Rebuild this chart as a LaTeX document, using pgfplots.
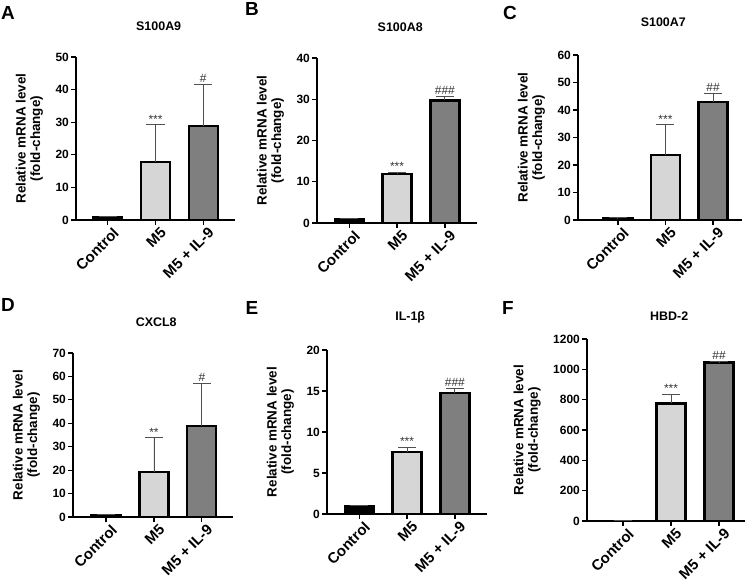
\documentclass[border=0pt]{standalone}
\usepackage{fontspec}
\setmainfont{Liberation Sans}
\usepackage{pgfplots}
\pgfplotsset{compat=1.18}

\definecolor{ctrlc}{HTML}{000000}
\definecolor{m5c}{HTML}{D6D6D6}
\definecolor{ilc}{HTML}{7F7F7F}
\definecolor{errc}{HTML}{505050}

\pgfplotsset{
  panel/.style={
    scale only axis, anchor=south west, clip=false,
    axis lines=left, axis line style={-, line width=1.2pt},
    ymin=0, xtick={0,1,2}, xticklabels={Control,M5,M5 + IL-9},
    tick align=outside, major tick length=5bp,
    tick style={line width=1.2pt, black}, minor tick num=0,
    /pgf/number format/assume math mode=true,
    /pgf/number format/1000 sep={}, scaled y ticks=false,
    xticklabel style={rotate=45, anchor=north east, inner sep=1bp, xshift=3bp, yshift=-3bp,
      font=\bfseries\fontsize{15}{15}\selectfont},
    yticklabel style={font=\bfseries\fontsize{12}{13}\selectfont, inner sep=2bp},
    ylabel={Relative mRNA level\\(fold-change)},
    ylabel style={align=center, font=\bfseries\fontsize{13.5}{14.5}\selectfont, yshift=7bp},
    title style={font=\bfseries\fontsize{12.5}{13}\selectfont, at={(0.52,1)}, anchor=center},
  },
  bar/.style={ybar, bar width=29bp, bar shift=0pt, draw=black, line width=2.2pt,
    /pgfplots/error bars/y dir=plus,
    /pgfplots/error bars/y explicit,
    /pgfplots/error bars/error bar style={line width=0.9pt, errc},
    /pgfplots/error bars/error mark options={rotate=90, line width=0.9pt, errc, mark size=9bp}},
  sig/.style={draw=none, mark=none, nodes near coords, point meta=explicit symbolic,
    nodes near coords style={anchor=south, inner sep=1.5bp, text=black!80,
      font=\fontsize{12}{12}\selectfont}},
}

\begin{document}
\begin{tikzpicture}
\useasboundingbox (0,0) rectangle (753bp,586bp);

% A
\begin{axis}[panel, at={(76bp,366bp)}, width=159bp, height=163bp,
  ymax=50, ytick={0,10,...,50}, xmin=-0.67, xmax=2.67,
  title={S100A9}, title style={yshift=25bp}]
\addplot[bar, fill=ctrlc] coordinates {(0,0.9) +- (0,0.2)};
\addplot[bar, fill=m5c] coordinates {(1,17.8) +- (0,11.4)};
\addplot[bar, fill=ilc] coordinates {(2,28.9) +- (0,12.8)};
\addplot[sig] coordinates {(1,29.2) [***] (2,41.7) [\#]};
\end{axis}

% B
\begin{axis}[panel, at={(317bp,363bp)}, width=160bp, height=165bp,
  ymax=40, ytick={0,10,...,40}, xmin=-0.67, xmax=2.67,
  title={S100A8}, title style={yshift=25bp}]
\addplot[bar, fill=ctrlc] coordinates {(0,1.0) +- (0,0.1)};
\addplot[bar, fill=m5c] coordinates {(1,11.9) +- (0,0.4)};
\addplot[bar, fill=ilc] coordinates {(2,29.7) +- (0,1.0)};
\addplot[sig] coordinates {(1,12.3) [***] (2,30.7) [\#\#\#]};
\end{axis}

% C
\begin{axis}[panel, at={(578bp,366bp)}, width=164bp, height=165bp,
  ymax=60, ytick={0,10,...,60}, xmin=-0.84, xmax=2.61,
  title={S100A7}, title style={yshift=27bp}]
\addplot[bar, fill=ctrlc] coordinates {(0,0.8) +- (0,0.1)};
\addplot[bar, fill=m5c] coordinates {(1,23.7) +- (0,10.9)};
\addplot[bar, fill=ilc] coordinates {(2,43.0) +- (0,3.2)};
\addplot[sig] coordinates {(1,34.6) [***] (2,46.2) [\#\#]};
\end{axis}

% D
\begin{axis}[panel, at={(73bp,69bp)}, width=160bp, height=164bp,
  ymax=70, ytick={0,10,...,70}, xmin=-0.69, xmax=2.65,
  title={CXCL8}, title style={yshift=25bp}]
\addplot[bar, fill=ctrlc] coordinates {(0,1.0) +- (0,0.1)};
\addplot[bar, fill=m5c] coordinates {(1,19.2) +- (0,14.6)};
\addplot[bar, fill=ilc] coordinates {(2,39.0) +- (0,18.0)};
\addplot[sig] coordinates {(1,33.8) [**] (2,57.0) [\#]};
\end{axis}

% E
\begin{axis}[panel, at={(327bp,72bp)}, width=160bp, height=164bp,
  ymax=20, ytick={0,5,...,20}, xmin=-0.67, xmax=2.67,
  title={IL-1β}, title style={yshift=27bp}]
\addplot[bar, fill=ctrlc] coordinates {(0,1.0) +- (0,0)};
\addplot[bar, fill=m5c] coordinates {(1,7.6) +- (0,0.5)};
\addplot[bar, fill=ilc] coordinates {(2,14.8) +- (0,0.5)};
\addplot[sig] coordinates {(1,8.1) [***] (2,15.3) [\#\#\#]};
\end{axis}

% F
\begin{axis}[panel, at={(587bp,65bp)}, width=158bp, height=182bp,
  ymax=1200, ytick={0,200,...,1200}, xmin=-0.75, xmax=2.54,
  title={HBD-2}, title style={yshift=17bp}]
\addplot[bar, fill=ctrlc, line width=0.4pt] coordinates {(0,1.0) +- (0,0)};
\addplot[bar, fill=m5c] coordinates {(1,775) +- (0,60)};
\addplot[bar, fill=ilc] coordinates {(2,1045) +- (0,8)};
\addplot[sig] coordinates {(1,835) [***] (2,1053) [\#\#]};
\end{axis}

\begin{scope}[font=\bfseries\fontsize{19}{19}\selectfont]
\node at (8bp,573bp) {A};
\node at (252bp,577bp) {B};
\node at (510bp,573bp) {C};
\node at (8bp,281bp) {D};
\node at (252bp,278bp) {E};
\node at (508bp,278bp) {F};
\end{scope}
\end{tikzpicture}
\end{document}
